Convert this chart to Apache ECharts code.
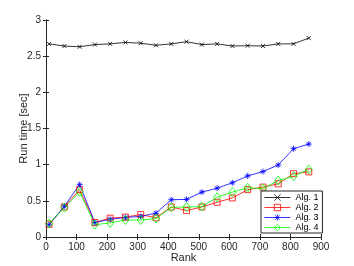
<!DOCTYPE html>
<html><head><meta charset="utf-8">
<script src="https://cdn.jsdelivr.net/npm/echarts@6/dist/echarts.min.js"></script>
<style>html,body{margin:0;padding:0;background:#fff;overflow:hidden}#c{width:354px;height:266px}</style>
</head><body><div id="c"></div>
<script>
const ranks = [10,60,110,160,210,260,310,360,410,460,510,560,610,660,710,760,810,860];
const alg1 = [2.67,2.64,2.63,2.66,2.67,2.69,2.68,2.65,2.67,2.70,2.66,2.67,2.64,2.645,2.64,2.67,2.67,2.75];
const alg2 = [0.175,0.415,0.655,0.20,0.26,0.275,0.31,0.265,0.415,0.365,0.415,0.48,0.54,0.655,0.69,0.735,0.875,0.90];
const alg3 = [0.17,0.425,0.725,0.20,0.245,0.27,0.285,0.33,0.515,0.52,0.62,0.675,0.75,0.845,0.905,0.995,1.22,1.285];
const alg4 = [0.185,0.405,0.625,0.17,0.195,0.235,0.235,0.255,0.41,0.415,0.42,0.55,0.62,0.68,0.67,0.78,0.84,0.935];
const seriesNames = ['Alg. 1','Alg. 2','Alg. 3','Alg. 4'];
const xTicks = [0,100,200,300,400,500,600,700,800,900];
const yTicks = [0,0.5,1,1.5,2,2.5,3];

const pair = ys => ranks.map((r,i)=>[r, ys[i]]);
const xPath = 'path://M0,0L10,10M10,0L0,10';
const starPath = 'path://M5,0L5,10M0,5L10,5M1.5,1.5L8.5,8.5M8.5,1.5L1.5,8.5';
const FONT = 'Liberation Sans, Arial, sans-serif';
const tickFont = {fontFamily:FONT, fontSize:10, color:'#262626'};

function mk(name, data, color, symbol, size){
  return {
    name, type:'line', data, symbol, symbolSize:size, showSymbol:true,
    lineStyle:{color, width:0.8},
    itemStyle:{color:'rgba(0,0,0,0)', borderColor:color, borderWidth:0.8},
    emphasis:{disabled:true}, animation:false, z:2
  };
}

const chart = echarts.init(document.getElementById('c'), null, {renderer:'canvas'});
chart.setOption({
  animation:false,
  backgroundColor:'#fff',
  grid:{left:46, right:33, top:20, bottom:29, containLabel:false, outerBoundsMode:'none'},
  xAxis:[{
    type:'value', min:0, max:900, interval:100,
    name:'Rank', nameLocation:'middle', nameGap:15, nameMoveOverlap:false,
    nameTextStyle:{fontFamily:FONT, fontSize:11, color:'#262626'},
    axisLine:{show:true, lineStyle:{color:'#262626', width:1}},
    axisTick:{show:true, inside:true, length:3, lineStyle:{color:'#262626'}},
    axisLabel:Object.assign({margin:5}, tickFont),
    splitLine:{show:false}
  },{
    type:'value', position:'top', min:0, max:900, interval:100,
    axisLine:{show:true, lineStyle:{color:'#262626', width:1}},
    axisTick:{show:true, inside:true, length:3, lineStyle:{color:'#262626'}},
    axisLabel:{show:false}, splitLine:{show:false}
  }],
  yAxis:[{
    type:'value', min:0, max:3, interval:0.5,
    name:'Run time [sec]', nameLocation:'middle', nameGap:17, nameMoveOverlap:false,
    nameTextStyle:{fontFamily:FONT, fontSize:11, color:'#262626'},
    axisLine:{show:true, lineStyle:{color:'#262626', width:1}},
    axisTick:{show:true, inside:true, length:3, lineStyle:{color:'#262626'}},
    axisLabel:Object.assign({margin:5, formatter: v => yTicks.includes(v) ? String(v) : ''}, tickFont),
    splitLine:{show:false}
  },{
    type:'value', position:'right', min:0, max:3, interval:0.5,
    axisLine:{show:true, lineStyle:{color:'#262626', width:1}},
    axisTick:{show:true, inside:true, length:3, lineStyle:{color:'#262626'}},
    axisLabel:{show:false}, splitLine:{show:false}
  }],
  legend:{
    orient:'vertical', left:261, top:191,
    data:seriesNames,
    itemWidth:26, itemHeight:8, itemGap:1,
    padding:[2,4,1,3],
    backgroundColor:'#fff', borderColor:'#262626', borderWidth:1, borderRadius:0,
    lineStyle:{width:0.8},
    itemStyle:{color:'rgba(0,0,0,0)', borderWidth:0.8},
    textStyle:{fontFamily:FONT, fontSize:9, lineHeight:9, color:'#000'},
    selectedMode:false
  },
  series:[
    mk(seriesNames[0], pair(alg1), '#000000', xPath, 4),
    mk(seriesNames[1], pair(alg2), '#ff0000', 'rect', 6),
    mk(seriesNames[2], pair(alg3), '#0000ff', starPath, 6),
    mk(seriesNames[3], pair(alg4), '#00ff00', 'diamond', [7,9])
  ]
});
</script></body></html>
